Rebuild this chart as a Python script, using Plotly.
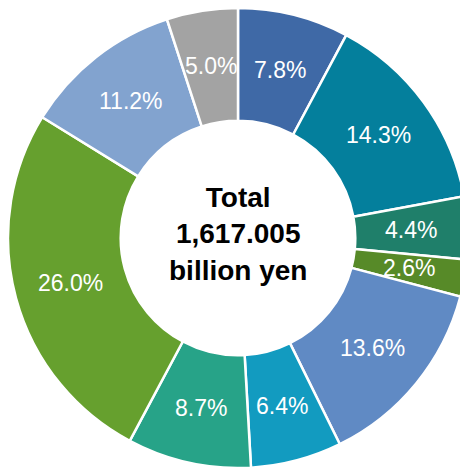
import numpy as np
import plotly.graph_objects as go

labels = ["A", "B", "C", "D", "E", "F", "G", "H", "I", "J"]
shares = [7.8, 14.3, 4.4, 2.6, 13.6, 6.4, 8.7, 26.0, 11.2, 5.0]
colors = ["#3F69A6", "#047F9C", "#1F7F6A", "#578A28", "#608AC4",
          "#129BC0", "#27A388", "#66A02E", "#82A3CF", "#A3A3A3"]
center_text = "<b>Total<br>1,617.005<br>billion yen</b>"

# the page body adds an 8px margin, so the figure covers the visible 460px
W = H = 460
dom_x = [0.0, 1.0]
dom_y = [0.0, 1.0]
hole = 0.51

fig = go.Figure(go.Pie(
    labels=labels,
    values=shares,
    sort=False,
    direction="clockwise",
    rotation=0,
    hole=hole,
    marker=dict(colors=colors, line=dict(color="white", width=2.5)),
    textinfo="none",
    showlegend=False,
    domain=dict(x=dom_x, y=dom_y),
))

# percentage labels placed at the middle of the ring, at each slice's mid angle
vals = np.array(shares)
mid = (np.cumsum(vals) - vals / 2) / vals.sum() * 2 * np.pi
r_out = min((dom_x[1] - dom_x[0]) * W, (dom_y[1] - dom_y[0]) * H) / 2
r_lab = r_out * (1 + hole) / 2
cx = (dom_x[0] + dom_x[1]) / 2
cy = (dom_y[0] + dom_y[1]) / 2
for v, a in zip(shares, mid):
    fig.add_annotation(
        text=f"{v:.1f}%", x=cx + r_lab * np.sin(a) / W, y=cy + r_lab * np.cos(a) / H,
        xref="paper", yref="paper", xanchor="center", yanchor="middle", showarrow=False,
        font=dict(family="Liberation Sans, Arial", size=23, color="white"),
    )

fig.add_annotation(
    text=center_text, x=cx, y=cy + 4 / H, xref="paper", yref="paper",
    xanchor="center", yanchor="middle",
    showarrow=False, font=dict(family="Liberation Sans, Arial", size=28, color="black"),
    align="center",
)

fig.update_layout(
    width=W, height=H,
    margin=dict(l=0, r=0, t=0, b=0),
    paper_bgcolor="white",
)

fig.write_html("out.html")
